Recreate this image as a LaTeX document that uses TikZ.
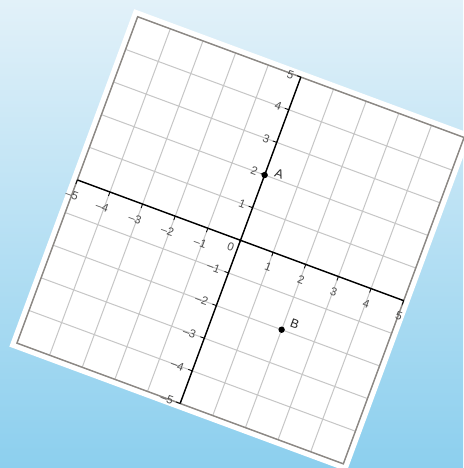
\documentclass[tikz,border=0pt]{standalone}
\usepackage{fontspec}
\setmainfont{Liberation Sans}
\definecolor{bgtop}{RGB}{226,241,249}
\definecolor{bgmid}{RGB}{180,224,244}
\definecolor{bgbot}{RGB}{140,207,238}
\definecolor{gridc}{RGB}{198,198,198}
\definecolor{framec}{RGB}{140,136,132}
\definecolor{labc}{RGB}{80,80,80}
\tikzset{
  gridline/.style={gridc, line width=1pt},
  frameline/.style={framec, line width=1.4pt},
  axisline/.style={black, line width=1.4pt},
  ticklabel/.style={labc, font=\fontsize{11.5}{13}\selectfont, rotate=-20.3, inner sep=0pt},
  ptlabel/.style={black!85, font=\fontsize{12.5}{14}\selectfont, rotate=-20.3, inner sep=0pt},
  dot/.style={circle, fill=black, inner sep=0pt, minimum size=6.4pt}
}
\begin{document}
\begin{tikzpicture}[x=1pt,y=1pt]
\useasboundingbox (0,0) rectangle (463,468);
\shade[top color=bgtop, middle color=bgmid, bottom color=bgbot] (0,0) rectangle (463,468);
\begin{scope}[shift={(240.5,227.7)}, rotate=-20.3, x=34.8pt, y=34.8pt]
  \fill[white] (-5.17,-5.17) rectangle (5.17,5.17);
  \draw[gridline, step=1] (-5,-5) grid (5,5);
  \draw[frameline] (-5,-5) rectangle (5,5);
  \coordinate (xl) at (-5,0);
  \coordinate (xr) at (5,0);
  \coordinate (yb) at (0,-5);
  \coordinate (yt) at (0,5);
  \draw[axisline] (xl) -- (xr);
  \draw[axisline] (yb) -- (yt);
  \foreach \k in {-5,...,5} {
    \draw[black, line width=0.8pt] (\k,0) -- (\k,-0.12);
    \draw[black, line width=0.8pt] (0,\k) -- (-0.12,\k);
  }
  % x-axis labels
  \foreach \k in {1,...,5} \node[ticklabel] at (\k+0.02,-0.45) {\k};
  \foreach \k in {1,...,4} \node[ticklabel] at (-\k-0.06,-0.47) {–\k};
  \node[ticklabel] at (-5.0,-0.45) {–5};
  \node[ticklabel] at (-0.2,-0.27) {0};
  % y-axis labels
  \foreach \k in {1,...,4} \node[ticklabel] at (-0.32,\k) {\k};
  \node[ticklabel] at (-0.3,4.96) {5};
  \foreach \k in {1,...,4} \node[ticklabel] at (-0.45,-\k) {–\k};
  \node[ticklabel] at (-0.4,-5.0) {–5};
  % points
  \node[dot] (A) at (0,2) {};
  \node[dot] (B) at (2,-2) {};
  \node[ptlabel] at (0.38,2.18) {A};
  \node[ptlabel] at (2.3,-1.72) {B};
\end{scope}
\end{tikzpicture}
\end{document}
